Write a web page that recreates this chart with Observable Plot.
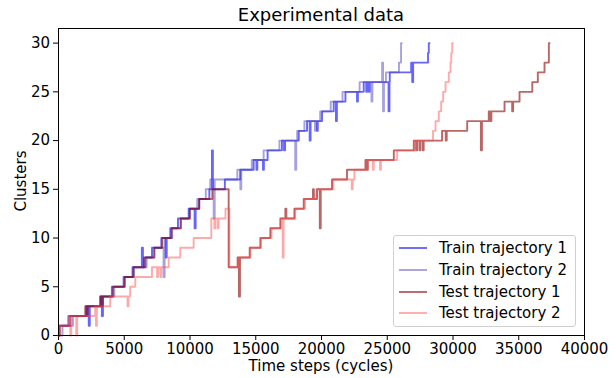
<!DOCTYPE html>
<html><head><meta charset="utf-8">
<script src="https://cdn.jsdelivr.net/npm/d3@7"></script>
<script src="https://cdn.jsdelivr.net/npm/@observablehq/plot@0.6"></script>
<style>
body{margin:0;background:#fff;}
#wrap{position:relative;width:616px;height:378px;font-family:"DejaVu Sans",sans-serif;color:#000;}
#title{position:absolute;left:58px;width:526px;top:4px;text-align:center;font-size:18px;line-height:22px;}
#xlab{position:absolute;left:58px;width:526px;top:357px;text-align:center;font-size:15px;line-height:18px;}
#ylab{position:absolute;left:21px;top:181px;transform:translate(-50%,-50%) rotate(-90deg);font-size:15px;line-height:18px;white-space:nowrap;}
#legend{position:absolute;left:393px;top:235px;width:183px;height:92px;border:1px solid #d0d0d0;border-radius:3px;background:rgba(255,255,255,0.8);box-sizing:border-box;}
.row{position:absolute;left:0;height:20px;display:flex;align-items:center;font-size:15px;white-space:nowrap;}
.row svg{margin-left:4px;margin-right:11px;}
</style></head><body>
<div id="wrap">
  <div id="chart"></div>
  <div id="title">Experimental data</div>
  <div id="xlab">Time steps (cycles)</div>
  <div id="ylab">Clusters</div>
  <div id="legend"></div>
</div>
<script>
const seriesNames = ["Train trajectory 1", "Train trajectory 2", "Test trajectory 1", "Test trajectory 2"];
const xTicks = [0, 5000, 10000, 15000, 20000, 25000, 30000, 35000, 40000];
const yTicks = [0, 5, 10, 15, 20, 25, 30];

// [time step, clusters] change points (step-after)
const train1 = [[0,0],[50,1],[760,2],[2160,3],[2300,1],[2380,3],[3170,4],[3300,2],[3380,4],[4060,5],[4950,6],[5630,7],[6340,9],[6420,7],[6600,8],[7110,9],[7820,10],[8150,8],[8230,10],[8500,11],[9085,12],[9900,13],[10350,11],[10430,13],[10700,14],[11470,15],[11670,19],[11740,15],[12650,16],[13830,17],[14840,18],[15050,17],[15120,18],[15550,17],[15620,18],[15900,19],[16990,20],[17150,19],[17230,20],[18270,21],[18900,22],[19100,20],[19170,22],[19650,21],[19720,22],[20040,23],[20930,24],[21100,22],[21170,24],[21820,25],[22700,24],[22770,25],[23210,26],[23400,25],[23470,26],[23600,25],[23670,26],[25100,23],[25170,26],[25190,27],[26820,28],[26900,26],[26970,28],[28100,29],[28160,30],[28220,30]];
const train2 = [[0,0],[300,1],[1100,2],[2050,3],[3250,4],[4250,5],[5000,6],[5750,7],[6700,8],[7250,9],[7990,6],[8070,9],[8100,10],[8650,11],[9300,12],[9950,13],[10550,14],[11200,15],[11540,16],[11800,12],[11880,16],[13600,17],[13830,15],[13900,17],[14700,18],[15600,19],[16800,20],[18000,17],[18080,20],[18150,21],[18700,22],[19500,21],[19570,22],[19900,23],[20700,24],[21600,25],[22900,26],[23800,24],[23870,26],[24610,28],[24680,23],[24750,26],[24900,27],[25890,28],[26050,30],[26110,30]];
const test1 = [[0,0],[100,1],[900,2],[2050,3],[2150,2],[2220,3],[3200,4],[3300,3],[3370,4],[4150,5],[5050,6],[5700,7],[6500,8],[7300,9],[7900,10],[8600,11],[9300,12],[10000,13],[10700,14],[11700,15],[12940,7],[13620,8],[13720,4],[13800,8],[14540,9],[15350,10],[16110,11],[16870,12],[17250,13],[17330,12],[17940,13],[18650,14],[19350,15],[19420,14],[19660,15],[19870,11],[19940,15],[20800,16],[21940,17],[23340,18],[23450,17],[23520,18],[25500,19],[27020,20],[27200,19],[27270,20],[27450,19],[27520,20],[27700,19],[27770,20],[29170,21],[29450,20],[29520,21],[31080,22],[32120,19],[32200,22],[32720,23],[32850,22],[32920,23],[33920,24],[34500,23],[34570,24],[35060,25],[36030,26],[36450,27],[36960,28],[37290,30],[37350,30]];
const test2 = [[0,0],[80,1],[760,2],[900,0],[970,2],[1350,0],[1420,2],[2790,3],[2850,1],[2920,3],[3930,4],[5250,3],[5320,4],[5450,5],[5840,6],[7110,7],[7500,6],[7570,7],[7750,6],[7820,7],[8380,8],[9260,9],[10280,10],[11620,12],[11850,11],[11920,12],[12100,11],[12170,12],[12700,13],[12990,7],[13700,8],[14600,9],[15400,10],[16200,11],[16950,12],[17050,8],[17120,12],[18000,13],[18750,14],[19600,15],[20900,16],[22300,15],[22370,16],[22500,17],[23500,18],[23900,17],[23970,18],[24450,17],[24520,18],[25750,19],[27100,20],[28480,21],[28670,22],[28920,23],[29100,24],[29250,25],[29430,26],[29680,27],[29810,28],[29870,29],[29940,30],[30000,30]];

const colors = ["#0000ff", "#4f46b8", "#8b0000", "#ff4d4d"];
const opacities = [0.6, 0.5, 0.6, 0.48];
const allSeries = [train1, train2, test1, test2];

const chart = Plot.plot({
  width: 616, height: 378,
  marginLeft: 58, marginRight: 32, marginTop: 28, marginBottom: 43,
  style: {fontFamily: "DejaVu Sans", fontSize: "15px", color: "#000", background: "transparent"},
  x: {domain: [0, 40000], ticks: xTicks, tickFormat: d3.format("d"), tickSize: 5, tickPadding: 2.5, label: null},
  y: {domain: [0, 31.5], ticks: yTicks, tickSize: 5, tickPadding: 3.5, label: null},
  marks: [
    ...allSeries.map((s, i) => Plot.line(s, {
      x: d => d[0], y: d => d[1], curve: "step-after",
      stroke: colors[i], strokeOpacity: opacities[i], strokeWidth: 1.9
    })),
    Plot.frame({stroke: "#000", strokeWidth: 1})
  ]
});
document.getElementById("chart").appendChild(chart);

const leg = document.getElementById("legend");
const NS = "http://www.w3.org/2000/svg";
seriesNames.forEach((name, i) => {
  const r = document.createElement("div");
  r.className = "row";
  r.style.top = (2 + i * 21.8) + "px";
  const sv = document.createElementNS(NS, "svg");
  sv.setAttribute("width", "30"); sv.setAttribute("height", "6");
  const ln = document.createElementNS(NS, "line");
  ln.setAttribute("x1", "1"); ln.setAttribute("x2", "29");
  ln.setAttribute("y1", "3"); ln.setAttribute("y2", "3");
  ln.setAttribute("stroke", colors[i]);
  ln.setAttribute("stroke-opacity", opacities[i]);
  ln.setAttribute("stroke-width", "1.9");
  sv.appendChild(ln);
  const t = document.createElement("span");
  t.textContent = name;
  r.appendChild(sv); r.appendChild(t);
  leg.appendChild(r);
});
</script>
</body></html>
